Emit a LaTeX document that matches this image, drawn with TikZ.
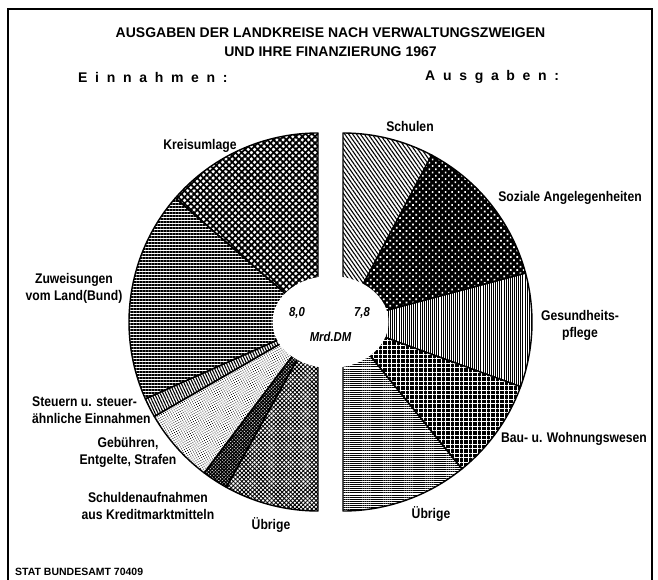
\documentclass[tikz,border=0pt]{standalone}
\usepackage{fontspec}
\setmainfont{Liberation Sans}
\newfontfamily\narrowfont[FakeStretch=0.87]{Liberation Sans}
\usepackage{tikz}
\usetikzlibrary{positioning,patterns.meta}

\tikzset{
  sec/.style={draw=black, line width=1.4pt, line join=round},
  lbl/.style={font=\narrowfont\bfseries\fontsize{14}{17}\selectfont, align=center, inner sep=0pt},
  num/.style={font=\narrowfont\bfseries\itshape\fontsize{13}{15}\selectfont, inner sep=0pt},
  head/.style={anchor=west, inner sep=0pt, font=\bfseries\fontsize{14}{17}\selectfont\addfontfeature{LetterSpace=55}},
  pKreis/.style={preaction={pattern={Lines[angle=45,distance=4.5pt,line width=1.8pt]}},
                 preaction={pattern={Lines[angle=-45,distance=4.5pt,line width=1.8pt]}}},
  pZuw/.style={preaction={pattern={Lines[angle=0,distance=3pt,line width=1.1pt]}}},
  pSteuer/.style={preaction={pattern={Lines[angle=115,distance=2.6pt,line width=1.1pt]}}},
  pGeb/.style={preaction={pattern={Dots[distance=2.2pt,radius=0.55pt,angle=30]}}},
  pSchuld/.style={preaction={pattern={Lines[angle=45,distance=2.4pt,line width=1.3pt]}},
                  preaction={pattern={Lines[angle=-45,distance=2.4pt,line width=1.3pt]}}},
  pUebrL/.style={preaction={pattern={Lines[angle=45,distance=3pt,line width=0.9pt]}},
                 preaction={pattern={Lines[angle=-45,distance=3pt,line width=0.9pt]}}},
  pSchule/.style={preaction={pattern={Lines[angle=-55,distance=3.2pt,line width=1.1pt]}}},
  pSozial/.style={preaction={fill=black},
                  preaction={pattern={Dots[distance=4.6pt,radius=1.2pt,angle=45]}, pattern color=white}},
  pGesund/.style={preaction={pattern={Lines[angle=90,distance=2.1pt,line width=0.9pt]}}},
  pBau/.style={preaction={fill=black},
               preaction={pattern={Lines[angle=0,distance=4.5pt,line width=0.9pt]}, pattern color=white},
               preaction={pattern={Lines[angle=90,distance=4.5pt,line width=0.9pt]}, pattern color=white}},
  pUebrR/.style={preaction={pattern={Lines[angle=0,distance=2.1pt,line width=1pt]}}},
}

\begin{document}
\begin{tikzpicture}[x=1pt,y=1pt]
  \useasboundingbox (0,0) rectangle (658,579);
  \draw[line width=1.4pt] (8,-3) -- (8,570) -- (652,570) -- (652,-3);

  \node[font=\bfseries\fontsize{14}{19}\selectfont, align=center, inner sep=0pt] (title) at (330.5,536.5)
    {AUSGABEN DER LANDKREISE NACH VERWALTUNGSZWEIGEN\\UND IHRE FINANZIERUNG 1967};
  \node[head] (einn) at (78,502) {Einnahmen:};
  \node[head] (ausg) at (425,502) {Ausgaben:};

  \coordinate (cL) at (318,257);
  \coordinate (cR) at (343,257);
  \coordinate (hub) at (330.5,257);

  % Einnahmen
  \foreach \a/\b/\p in {90/139/pKreis, 139/204/pZuw, 204/210/pSteuer,
                        210/233/pGeb, 233/241/pSchuld, 241/270/pUebrL}
    \draw[sec,\p] (cL) -- ++(\a:189) arc[start angle=\a,end angle=\b,radius=189] -- cycle;
  % Ausgaben
  \foreach \a/\b/\p in {90/62/pSchule, 62/15/pSozial, 15/-20/pGesund,
                        -20/-51/pBau, -51/-90/pUebrR}
    \draw[sec,\p] (cR) -- ++(\a:189) arc[start angle=\a,end angle=\b,radius=189] -- cycle;

  \fill[white] (hub) ellipse[x radius=58, y radius=46];
  \node[num] (sumL) at (297,266) {8,0};
  \node[num] (sumR) at (362,266) {7,8};
  \node[num] (unit) at (330.5,242) {Mrd.DM};

  \node[lbl] (kreis) at (200,433) {Kreisumlage};
  \node[lbl] (zuw) at (74,290.5) {Zuweisungen\\vom Land(Bund)};
  \node[lbl, align=left, anchor=west] (steuer) at (32,169) {Steuern u. steuer-\\ähnliche Einnahmen};
  \node[lbl] (geb) at (128,126.5) {Gebühren,\\Entgelte, Strafen};
  \node[lbl] (schuld) at (148,73) {Schuldenaufnahmen\\aus Kreditmarktmitteln};
  \node[lbl] (uebrL) at (271,54) {Übrige};

  \node[lbl] (schule) at (410,453) {Schulen};
  \node[lbl] (sozial) at (570,381) {Soziale Angelegenheiten};
  \node[lbl] (gesund) at (580,254) {Gesundheits-\\pflege};
  \node[lbl] (bau) at (574,140) {Bau- u. Wohnungswesen};
  \node[lbl] (uebrR) at (431,65) {Übrige};

  \node[anchor=west, inner sep=0pt, font=\bfseries\fontsize{10.5}{12}\selectfont] (src) at (15,7) {STAT BUNDESAMT 70409};
\end{tikzpicture}
\end{document}
